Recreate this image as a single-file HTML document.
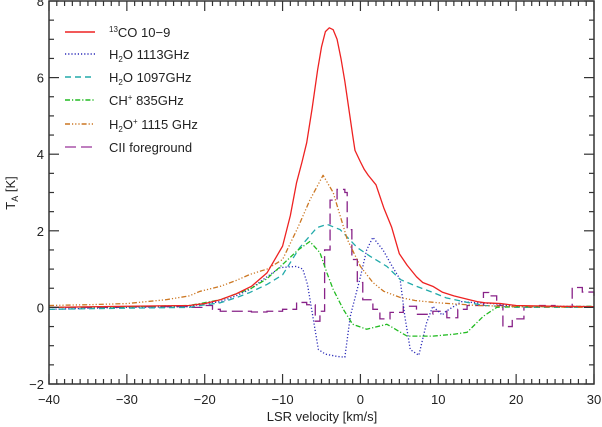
<!DOCTYPE html>
<html><head><meta charset="utf-8"><style>
html,body{margin:0;padding:0;background:#fff;}
svg{display:block;font-family:"Liberation Sans",sans-serif;}
</style></head><body>
<svg id="chart" width="602" height="427" viewBox="0 0 602 427" xmlns="http://www.w3.org/2000/svg"></svg>
<script>
const xTicks=[-40,-30,-20,-10,0,10,20,30];
const yTicks=[-2,0,2,4,6,8];
const coV=[-40,-30,-22,-20,-18,-16,-14,-12,-10,-9,-8.2,-7.5,-6.9,-6.2,-5.5,-5,-4.5,-4,-3.5,-3,-2.5,-2,-1.5,-1,-0.7,0,0.5,1,2,3,4,5,6,7.2,8,9.3,10.5,12,14,15,16,18,20,25,30];
const coT=[0,0.03,0.05,0.1,0.2,0.35,0.55,0.9,1.6,2.4,3.26,3.8,4.3,5.2,6.2,6.8,7.2,7.3,7.25,7.0,6.5,5.9,5.2,4.5,4.1,3.8,3.6,3.45,3.2,2.6,2.1,1.4,1.1,0.8,0.65,0.55,0.4,0.3,0.2,0.15,0.12,0.1,0.05,0.03,0.02];
const h2oV=[-40,-30,-22,-20.6,-18,-16,-14.2,-12,-10.3,-8.2,-7.4,-6.8,-6.2,-5.4,-4.5,-3,-2,-1.3,0,0.8,1.6,2.9,4,5.1,5.7,6.4,7.5,8.5,9.3,10.5,11,13,15,17,20,25,30];
const h2oT=[-0.05,0,0.02,0.08,0.15,0.3,0.47,0.8,1.04,1.07,1.0,0.6,-0.13,-1.1,-1.22,-1.28,-1.3,-0.23,0.8,1.5,1.83,1.5,1.1,0.73,-0.23,-1.1,-1.25,-0.4,0.03,-0.2,-0.1,0.15,0.12,0.1,0.02,0.03,0.02];
const h2o2V=[-40,-30,-22,-20.6,-18,-16,-14.2,-12,-10,-7.8,-5.6,-4.3,-2.6,-0.4,1.2,3.4,5.1,7.2,9.3,11,13.7,16,20,25,30];
const h2o2T=[-0.05,-0.02,0.0,0.05,0.12,0.25,0.39,0.6,0.85,1.56,2.08,2.17,2.03,1.56,1.34,1.07,0.73,0.55,0.39,0.25,0.13,0.05,0.0,0.0,0.0];
const chV=[-40,-30,-22,-20.6,-18,-16,-14,-12,-10,-8,-6.5,-5.2,-4.3,-3.5,-2.2,-1,0.8,3.4,6,9.3,12,13.7,15.8,17.5,20,25,30];
const chT=[0,0.02,0.05,0.1,0.2,0.35,0.5,0.75,1.12,1.5,1.72,1.43,0.9,0.47,-0.05,-0.44,-0.57,-0.44,-0.75,-0.75,-0.7,-0.65,-0.23,0.0,0.02,0.02,0.03];
const hpV=[-40,-35,-30,-25,-22,-20.6,-18,-16,-14.2,-12,-10,-8,-6.5,-4.8,-3.5,-1.7,0,1.6,3,5.1,7,10,15,20,25,30];
const hpT=[0.05,0.07,0.1,0.2,0.3,0.42,0.55,0.7,0.86,1.0,1.25,2.1,2.8,3.45,3.0,1.78,1.07,0.65,0.42,0.26,0.18,0.12,0.05,0.02,0.01,0.0];
const ciiV=[-40,-30,-22,-20,-19,-18,-16.4,-14,-12,-10,-8.2,-6.9,-5.8,-5.2,-4.6,-3.9,-3.0,-2.0,-1.7,-1.1,-0.4,0.3,1.6,2.5,3.8,5.5,7.2,9.3,11.1,12.5,13.7,15.8,16.5,17.5,18.3,19.5,21,23,25,27.2,28.5,30];
const ciiT=[0,0.02,0.0,0.05,-0.05,-0.1,-0.1,-0.12,-0.1,-0.05,0.13,0.07,-0.36,-0.1,1.5,2.8,3.08,3.0,2.03,1.25,0.65,0.2,-0.05,-0.3,-0.13,0.03,-0.18,-0.1,-0.27,-0.05,0.05,0.39,0.3,0.05,-0.5,-0.3,0.0,0.05,0.0,0.52,0.4,0.3];

const L=49,R=594,T0=1,B=384;
const xs=v=>L+(v+40)/70*(R-L);
const ys=t=>B-(t+2)/10*(B-T0);
const svg=document.getElementById('chart');
const NS='http://www.w3.org/2000/svg';
function mk(tag,attrs,parent){const e=document.createElementNS(NS,tag);for(const k in attrs)e.setAttribute(k,attrs[k]);(parent||svg).appendChild(e);return e;}

const series=[
 {v:h2oV,t:h2oT,c:'#2a2ab8',d:'1.2 2',n:'series-h2o-1113'},
 {v:h2o2V,t:h2o2T,c:'#22aaaa',d:'6 4',n:'series-h2o-1097'},
 {v:chV,t:chT,c:'#22bb22',d:'5 2 1.2 2',n:'series-chp-835'},
 {v:hpV,t:hpT,c:'#cc7722',d:'5 2 1.2 2 1.2 2 1.2 2',n:'series-h2op-1115'},
 {v:coV,t:coT,c:'#ee2222',d:'',n:'series-13co'},
];
const plot=mk('g',{});


let dd='';
for(let i=0;i<ciiV.length;i++){const x=xs(ciiV[i]),y=ys(ciiT[i]);if(i===0)dd+='M'+x+','+y;else{dd+=' H'+x+' V'+y;}}
dd+=' H'+xs(30);
const cii=mk('path',{d:dd,fill:'none',stroke:'#882288','stroke-width':1.3,'stroke-dasharray':'11 5'},plot);


series.forEach(s=>{
 const pts=s.v.map((v,i)=>xs(v)+','+ys(s.t[i])).join(' ');
 const p=mk('polyline',{points:pts,fill:'none',stroke:s.c,'stroke-width':1.3,'stroke-linejoin':'round'},plot);
 if(s.d)p.setAttribute('stroke-dasharray',s.d);
 
 
});

const frame=mk('rect',{x:L,y:T0,width:R-L,height:B-T0,fill:'none',stroke:'#333','stroke-width':1.5});


const ax=mk('g',{stroke:'#333','stroke-width':1.2});


for(let v=-40;v<=30;v+=1){const x=xs(v),len=(v%10===0)?10:5;
 mk('line',{x1:x,x2:x,y1:B,y2:B-len},ax);mk('line',{x1:x,x2:x,y1:T0,y2:T0+len},ax);}
for(let t=-2;t<=8;t+=0.5){const y=ys(t),len=(t%2===0)?10:5;
 mk('line',{x1:L,x2:L+len,y1:y,y2:y},ax);mk('line',{x1:R,x2:R-len,y1:y,y2:y},ax);}
xTicks.forEach(v=>{const e=mk('text',{x:xs(v),y:404,'text-anchor':'middle','font-size':13,fill:'#222'});e.textContent=v<0?'\u2212'+(-v):v;
 });
yTicks.forEach(t=>{const e=mk('text',{x:44,y:ys(t)+5,'text-anchor':'end','font-size':13,fill:'#222'});e.textContent=t<0?'\u2212'+(-t):t;
 });
const xt=mk('text',{x:322,y:421,'text-anchor':'middle','font-size':13,fill:'#222'});xt.textContent='LSR velocity [km/s]';

const yt=mk('text',{x:0,y:0,'text-anchor':'middle','font-size':13,fill:'#222',transform:'translate(15,193) rotate(-90)'});
yt.innerHTML='T<tspan font-size="9" dy="3">A</tspan><tspan dy="-3"> [K]</tspan>';


const leg=[
 ['#ee2222','','<tspan font-size="8" dy="-5">13</tspan><tspan dy="5">CO 10\u22129</tspan>','legend-13co'],
 ['#2a2ab8','1.2 2','H<tspan font-size="8" dy="3">2</tspan><tspan dy="-3">O 1113GHz</tspan>','legend-h2o-1113'],
 ['#22aaaa','6 4','H<tspan font-size="8" dy="3">2</tspan><tspan dy="-3">O 1097GHz</tspan>','legend-h2o-1097'],
 ['#22bb22','5 2 1.2 2','CH<tspan font-size="8" dy="-5">+</tspan><tspan dy="5"> 835GHz</tspan>','legend-chp'],
 ['#cc7722','5 2 1.2 2 1.2 2 1.2 2','H<tspan font-size="8" dy="3">2</tspan><tspan dy="-3">O</tspan><tspan font-size="8" dy="-5">+</tspan><tspan dy="5"> 1115 GHz</tspan>','legend-h2op'],
 ['#aa55aa','11 5','CII foreground','legend-cii'],
];
const lys=[32,54,77,100,124,147];
leg.forEach((l,i)=>{const g=mk('g',{});
 const ln=mk('line',{x1:65,x2:95,y1:lys[i],y2:lys[i],stroke:l[0],'stroke-width':1.5},g);if(l[1])ln.setAttribute('stroke-dasharray',l[1]);
 const tx=mk('text',{x:109,y:lys[i]+5,'font-size':13,fill:'#222'},g);tx.innerHTML=l[2];});
</script>
</body></html>
